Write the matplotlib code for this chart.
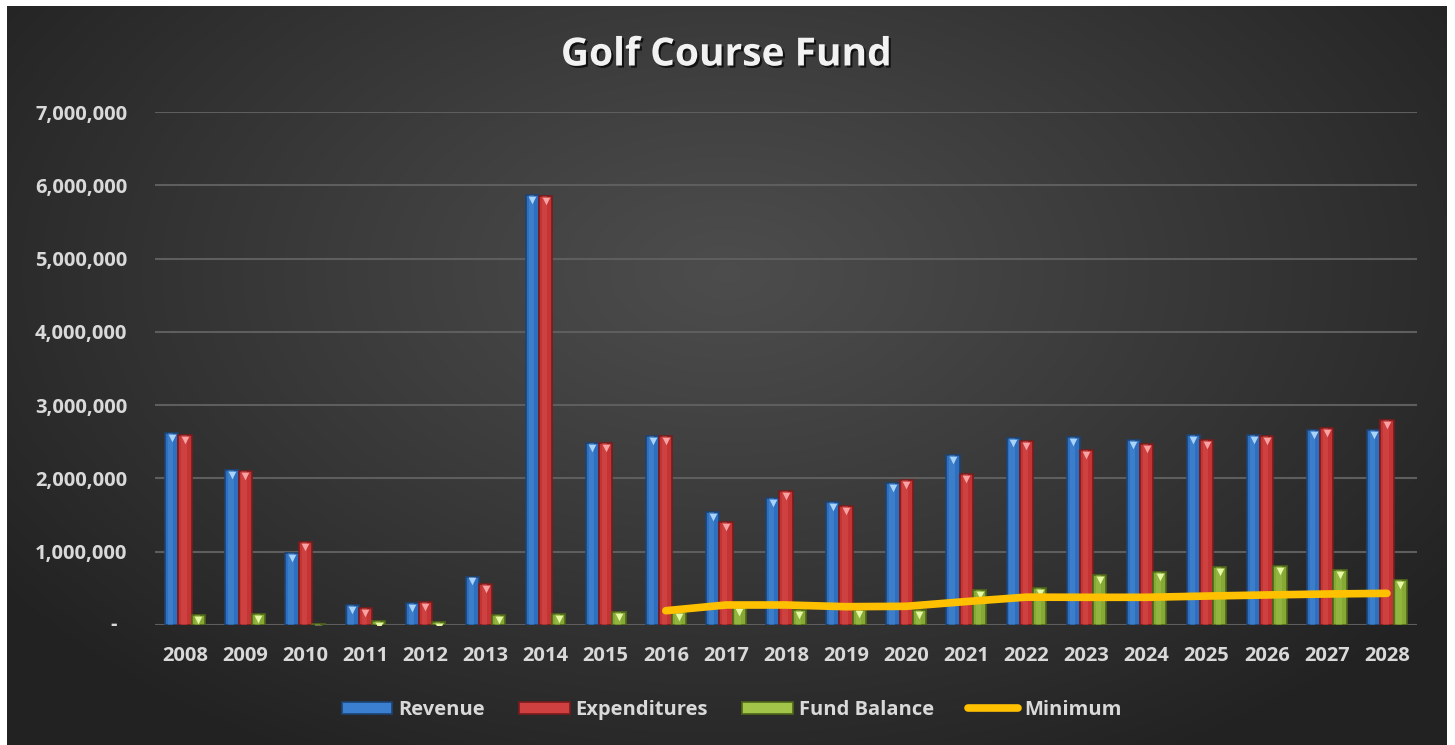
import numpy as np
import matplotlib
matplotlib.use("Agg")
import matplotlib.pyplot as plt
from matplotlib import patheffects as pe
from matplotlib.patches import Patch
from matplotlib.lines import Line2D
import matplotlib.transforms as mtransforms
from matplotlib.ticker import FuncFormatter

# ---------------- data ----------------
years = [str(y) for y in range(2008, 2029)]
revenue = [2616000, 2110000, 987000, 273000, 300000, 660000, 5867000, 2483000,
           2580000, 1538000, 1733000, 1674000, 1933000, 2320000, 2547000,
           2570000, 2520000, 2588000, 2588000, 2656000, 2656000]
expenditures = [2590000, 2100000, 1130000, 232000, 318000, 564000, 5853000,
                2483000, 2580000, 1400000, 1833000, 1624000, 1978000, 2060000,
                2506000, 2388000, 2470000, 2524000, 2574000, 2684000, 2793000]
fund_balance = [136000, 146000, 10000, 55000, 45000, 136000, 155000, 182000,
                180000, 250000, 200000, 210000, 200000, 477000, 500000, 678000,
                723000, 791000, 800000, 755000, 618000]
minimum_years = years[8:]
minimum = [195000, 273000, 273000, 250000, 255000, 320000, 380000, 378000,
           378000, 395000, 410000, 423000, 432000]
y_ticks = [0, 1000000, 2000000, 3000000, 4000000, 5000000, 6000000, 7000000]
series_names = ["Revenue", "Expenditures", "Fund Balance", "Minimum"]

# ---------------- figure ----------------
W, H = 1455, 745
fig = plt.figure(figsize=(W / 100, H / 100), dpi=100, facecolor="white")

# gradient background panel
bg = fig.add_axes([7 / W, 0, 1440 / W, 739 / H], zorder=-10)
bg.set_axis_off()
gx = np.linspace(0, 1, 400)
gy = np.linspace(0, 1, 220)
GX, GY = np.meshgrid(gx, gy)
r = np.sqrt(((GX - 0.50) / 0.62) ** 2 + ((GY - 0.36) / 0.75) ** 2)
r = np.clip(r, 0, 1)
c_center, c_edge = 0.30, 0.135
img = c_center + (c_edge - c_center) * r ** 1.1
bg.imshow(np.dstack([img, img, img]), aspect="auto", extent=[0, 1, 1, 0],
          interpolation="bicubic")
bg.set_xlim(0, 1)
bg.set_ylim(1, 0)

ax = fig.add_axes([155 / W, 1 - 625 / H, (1417 - 155) / W, (625 - 112) / H])
ax.set_facecolor("none")

x = np.arange(len(years))
bw = 0.22
specs = [
    (revenue, -bw, "#2f6fc0", "#1d4373", "#5a9be0", "#a9d4fa"),
    (expenditures, 0.0, "#c43434", "#7a1c1c", "#e05c5c", "#f7a3a3"),
    (fund_balance, bw, "#86a935", "#4f6619", "#aacd55", "#e6f7a6"),
]
for vals, off, face, edge, hi, tri in specs:
    ax.bar(x + off, vals, width=bw, color=face, edgecolor=edge, linewidth=1.2,
           zorder=3)
    ax.bar(x + off - bw * 0.08, vals, width=bw * 0.40, color=hi, alpha=0.35,
           linewidth=0, zorder=3.1)
    tr = mtransforms.offset_copy(ax.transData, fig=fig, x=0, y=-3.5,
                                 units="points")
    ax.scatter(x + off, vals, marker="v", s=30, color=tri, linewidths=0,
               transform=tr, zorder=3.2)

xm = np.array([years.index(y) for y in minimum_years])
ax.plot(xm, minimum, color="#ffc000", lw=5.5, solid_capstyle="round",
        solid_joinstyle="round", zorder=4)

ax.set_xlim(-0.5, len(years) - 0.5)
ax.set_ylim(0, 7000000)
ax.set_yticks(y_ticks)
ax.yaxis.set_major_formatter(
    FuncFormatter(lambda v, p: "" if v == 0 else f"{int(v):,}"))
ax.set_xticks(x)
ax.set_xticklabels(years)
ax.grid(axis="y", color="#5e5e5e", lw=1.5, zorder=1)
ax.set_axisbelow(True)
for s in ax.spines.values():
    s.set_visible(False)
ax.tick_params(axis="both", length=0, colors="#d9d9d9")
ax.tick_params(axis="y", pad=20)
ax.tick_params(axis="x", pad=15)
for lab in ax.get_xticklabels() + ax.get_yticklabels():
    lab.set_fontfamily("Open Sans")
    lab.set_fontweight("bold")
    lab.set_fontsize(14.5)
    lab.set_color("#d9d9d9")

# accounting-style dash for the zero tick
ax.text(-0.033, y_ticks[0], "-", ha="center", va="center",
        transform=mtransforms.blended_transform_factory(ax.transAxes,
                                                        ax.transData),
        fontsize=14.5, fontweight="bold", family="Open Sans",
        color="#d9d9d9")

fig.text(726 / W, 1 - 55 / H, "Golf Course Fund", ha="center", va="center",
         fontsize=28, fontweight="bold", family="Open Sans", color="#f2f2f2",
         path_effects=[pe.withSimplePatchShadow(offset=(1.5, -1.5),
                                                shadow_rgbFace="black",
                                                alpha=0.7)])

handles = [
    Patch(facecolor="#3a7fd0", edgecolor="#1d4373", lw=1.2),
    Patch(facecolor="#d04040", edgecolor="#7a1c1c", lw=1.2),
    Patch(facecolor="#a2c448", edgecolor="#4f6619", lw=1.2),
    Line2D([0], [0], color="#ffc000", lw=5.5, solid_capstyle="round"),
]
leg = fig.legend(handles, series_names, loc="center", ncol=4,
                 bbox_to_anchor=(732 / W, 1 - 710 / H), frameon=False,
                 prop={"family": "Open Sans", "weight": "bold", "size": 14.5},
                 handlelength=2.5, handleheight=0.55, handletextpad=0.3,
                 columnspacing=1.7, labelcolor="#d9d9d9")

fig.savefig("out.png", dpi=100, facecolor="white")
